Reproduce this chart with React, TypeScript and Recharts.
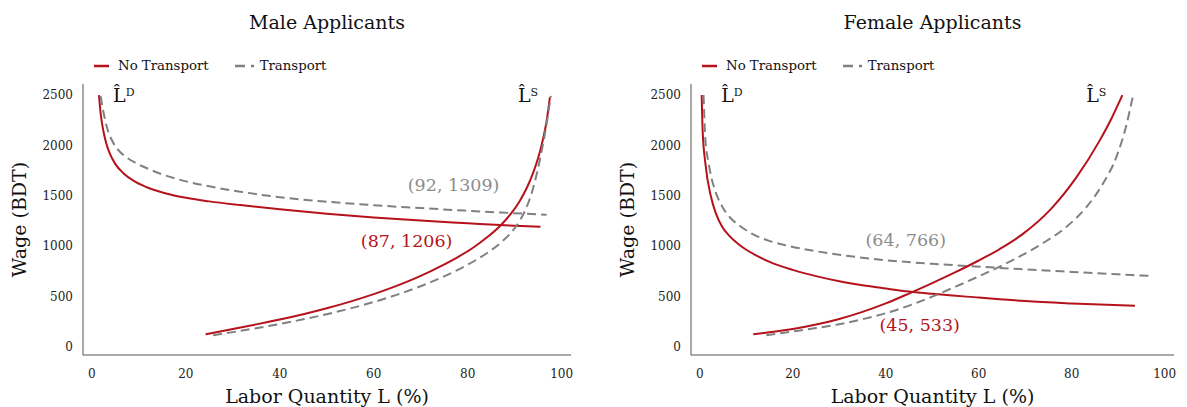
import React from "react";
import {
  LineChart,
  Line,
  XAxis,
  YAxis,
  Legend,
  ReferenceDot,
} from "recharts";

const FONT = '"DejaVu Serif", serif';
const RED = "#B5121B";
const GRAY = "#808080";
const GRAY_TEXT = "#8c8c8c";

const xTicks = [0, 20, 40, 60, 80, 100];
const yTicks = [0, 500, 1000, 1500, 2000, 2500];

// [labor %, wage] pairs
const maleDemandNoTransport = [
  [1.5, 2500], [1.9, 2300], [2.4, 2153], [3, 2030], [3.8, 1921], [5, 1815],
  [6.7, 1725], [9, 1645], [11.7, 1585], [15, 1533], [18.8, 1490],
  [25, 1445], [31.6, 1408], [40, 1366], [50, 1322], [60, 1286], [70, 1254],
  [80, 1228], [87, 1210], [95.5, 1192],
];
const maleSupplyNoTransport = [
  [24.2, 126], [30, 178], [35, 224], [40, 272], [45, 325], [50, 384],
  [55, 450], [60, 524], [65, 608], [70, 705], [74.2, 800], [78, 895],
  [81.3, 990], [84, 1083], [87, 1206], [89, 1310], [91, 1442], [92.5, 1570],
  [94, 1735], [95, 1875], [96, 2055], [96.8, 2239], [97.5, 2477],
];
const maleDemandTransport = [
  [1.85, 2490], [2.4, 2345], [3.1, 2195], [4.5, 2030], [5.8, 1945],
  [7.4, 1880], [9.5, 1822], [11.7, 1774], [15, 1712], [18.8, 1658],
  [25, 1594], [31.6, 1541], [40, 1486], [50, 1442], [60, 1407], [70, 1378],
  [80, 1352], [86, 1337], [92, 1323], [96.8, 1313],
];
const maleSupplyTransport = [
  [25.8, 116], [30, 147], [35, 186], [40, 228], [45, 274], [50, 325],
  [55, 382], [60, 446], [65, 519], [70, 603], [75, 701], [80, 816],
  [84, 928], [87, 1033], [89, 1123], [91, 1247], [92.5, 1382],
  [93.7, 1538], [94.8, 1736], [95.8, 1956], [96.6, 2156], [97.7, 2492],
];

const femaleDemandNoTransport = [
  [0.4, 2500], [0.6, 2150], [1.2, 1820], [2.4, 1490], [3.5, 1320],
  [4.8, 1192], [6.3, 1105], [8.6, 1010], [10, 965], [12, 912], [15, 845],
  [20, 765], [25, 703], [30, 652], [35, 612], [40, 580], [45, 550],
  [50, 527], [60, 490], [64.5, 474], [70, 455], [80, 432], [93.6, 410],
];
const femaleSupplyNoTransport = [
  [11.5, 126], [15, 146], [20, 177], [25, 222], [30, 278], [35, 348],
  [40, 432], [45.2, 535], [50, 634], [55, 742], [60, 858], [64.5, 972],
  [69.5, 1122], [75.3, 1358], [81, 1683], [86, 2048], [88.5, 2263],
  [90.9, 2500],
];
const femaleDemandTransport = [
  [0.8, 2500], [1.2, 2050], [1.8, 1850], [2.4, 1700], [3.5, 1525],
  [4.8, 1395], [6.5, 1285], [8.8, 1195], [11.5, 1117], [14.5, 1060],
  [20, 993], [25, 950], [30, 915], [40, 861], [50, 825], [57.4, 804],
  [64, 786], [70, 770], [80, 745], [90, 721], [96.8, 705],
];
const femaleSupplyTransport = [
  [14.3, 116], [20, 153], [25, 187], [30, 226], [35, 275], [40, 335],
  [45, 410], [50, 500], [55, 598], [60, 700], [64.5, 797], [68.8, 898],
  [73.8, 1030], [78.9, 1194], [83.2, 1390], [86.7, 1620], [89.6, 1885],
  [91.8, 2210], [93.2, 2500],
];

const maleLabels = {
  noTransport: { text: "(87, 1206)", x: 67, w: 1052 },
  transport: { text: "(92, 1309)", x: 77, w: 1607 },
  demandHat: 4.5,
  supplyHat: 90.7,
};
const femaleLabels = {
  noTransport: { text: "(45, 533)", x: 47.3, w: 218 },
  transport: { text: "(64, 766)", x: 44.3, w: 1061 },
  demandHat: 4.6,
  supplyHat: 83.1,
};

const toPts = (arr: number[][]) => arr.map(([x, w]) => ({ x, w }));

const hatLabel = (sup: string) => (props: any) => {
  const vb = props.viewBox || {};
  const x = vb.x + (vb.width || 0) / 2;
  const y = vb.y + (vb.height || 0) / 2;
  return (
    <text x={x} y={y} fontFamily={FONT} fontSize={19} fill="#111">
      {"L\u0302"}
      <tspan fontSize={11} dy={-6}>
        {sup}
      </tspan>
    </text>
  );
};

const yAxisLabel = (props: any) => {
  const vb = props.viewBox;
  const x = vb.x + vb.width - 57;
  const y = vb.y + vb.height / 2;
  return (
    <text
      x={x}
      y={y}
      transform={`rotate(-90 ${x} ${y})`}
      textAnchor="middle"
      fontFamily={FONT}
      fontSize={19}
      fill="#111"
    >
      Wage (BDT)
    </text>
  );
};

const xAxisLabel = (props: any) => {
  const vb = props.viewBox;
  return (
    <text
      x={vb.x + vb.width / 2}
      y={vb.y + 48}
      textAnchor="middle"
      fontFamily={FONT}
      fontSize={19}
      fill="#111"
    >
      Labor Quantity L (%)
    </text>
  );
};

const renderLegend = (props: any) => {
  const items = (props.payload || []).filter((p: any) => p.type !== "none");
  return (
    <div
      style={{
        display: "flex",
        alignItems: "center",
        fontFamily: FONT,
        fontSize: 13.3,
        lineHeight: "20px",
        color: "#111",
      }}
    >
      {items.map((p: any, i: number) => {
        const dashed = p.color === GRAY;
        const w = dashed ? 19 : 15;
        return (
          <div
            key={i}
            style={{ display: "flex", alignItems: "center", marginRight: i === 0 ? 26 : 0 }}
          >
            <svg width={w} height={4}>
              <line
                x1={0}
                y1={2}
                x2={w}
                y2={2}
                stroke={p.color}
                strokeWidth={2.5}
                strokeDasharray={dashed ? "10 6" : undefined}
              />
            </svg>
            <span style={{ marginLeft: dashed ? 6 : 9 }}>{p.value}</span>
          </div>
        );
      })}
    </div>
  );
};

interface PanelProps {
  title: string;
  left: number;
  width: number;
  axisWidth: number;
  rightMargin: number;
  legendLeft: number;
  demandNT: number[][];
  supplyNT: number[][];
  demandT: number[][];
  supplyT: number[][];
  labels: typeof maleLabels;
}

const Panel: React.FC<PanelProps> = (p) => {
  const plotCenter = (p.axisWidth + (p.width - p.rightMargin)) / 2;
  return (
    <div style={{ position: "absolute", left: p.left, top: 0, width: p.width, height: 407 }}>
      <div
        style={{
          position: "absolute",
          top: 10,
          left: plotCenter - 150,
          width: 300,
          textAlign: "center",
          fontFamily: FONT,
          fontSize: 19,
          lineHeight: "24px",
          color: "#111",
        }}
      >
        {p.title}
      </div>
      <LineChart
        width={p.width}
        height={407}
        margin={{ top: 84, right: p.rightMargin, bottom: 22, left: 0 }}
      >
        <XAxis
          type="number"
          dataKey="x"
          domain={[-1.9, 102]}
          ticks={xTicks}
          tickLine={false}
          axisLine={{ stroke: "#555" }}
          tickMargin={8}
          tick={{ fill: "#222", fontSize: 12, fontFamily: FONT }}
          height={30}
          label={xAxisLabel}
        />
        <YAxis
          type="number"
          domain={[-80, 2610]}
          ticks={yTicks}
          tickLine={false}
          axisLine={{ stroke: "#555" }}
          tickMargin={4}
          tick={{ fill: "#222", fontSize: 12, fontFamily: FONT }}
          width={p.axisWidth}
          label={yAxisLabel}
        />
        <Legend
          verticalAlign="middle"
          align="center"
          content={renderLegend}
          wrapperStyle={{ top: 56, left: p.legendLeft, width: "auto" }}
        />
        <Line
          data={toPts(p.demandNT)}
          dataKey="w"
          name="No Transport"
          type="monotone"
          stroke={RED}
          strokeWidth={2}
          dot={false}
          isAnimationActive={false}
        />
        <Line
          data={toPts(p.demandT)}
          dataKey="w"
          name="Transport"
          type="monotone"
          stroke={GRAY}
          strokeWidth={2}
          strokeDasharray="9 5"
          dot={false}
          isAnimationActive={false}
        />
        <Line
          data={toPts(p.supplyNT)}
          dataKey="w"
          name="No Transport supply"
          legendType="none"
          type="monotone"
          stroke={RED}
          strokeWidth={2}
          dot={false}
          isAnimationActive={false}
        />
        <Line
          data={toPts(p.supplyT)}
          dataKey="w"
          name="Transport supply"
          legendType="none"
          type="monotone"
          stroke={GRAY}
          strokeWidth={2}
          strokeDasharray="9 5"
          dot={false}
          isAnimationActive={false}
        />
        <ReferenceDot
          x={p.labels.transport.x}
          y={p.labels.transport.w}
          r={1}
          fill="none"
          stroke="none"
          label={{
            value: p.labels.transport.text,
            position: "center",
            fill: GRAY_TEXT,
            fontSize: 17.5,
            fontFamily: FONT,
          }}
        />
        <ReferenceDot
          x={p.labels.noTransport.x}
          y={p.labels.noTransport.w}
          r={1}
          fill="none"
          stroke="none"
          label={{
            value: p.labels.noTransport.text,
            position: "center",
            fill: RED,
            fontSize: 17.5,
            fontFamily: FONT,
          }}
        />
        <ReferenceDot
          x={p.labels.demandHat}
          y={2434}
          r={1}
          fill="none"
          stroke="none"
          label={hatLabel("D")}
        />
        <ReferenceDot
          x={p.labels.supplyHat}
          y={2434}
          r={1}
          fill="none"
          stroke="none"
          label={hatLabel("S")}
        />
      </LineChart>
    </div>
  );
};

export default function App() {
  return (
    <div
      style={{
        position: "absolute",
        left: 0,
        top: 0,
        width: 1187,
        height: 407,
        background: "#fff",
      }}
    >
      <Panel
        title="Male Applicants"
        left={0}
        width={600}
        axisWidth={83}
        rightMargin={29}
        legendLeft={94}
        demandNT={maleDemandNoTransport}
        supplyNT={maleSupplyNoTransport}
        demandT={maleDemandTransport}
        supplyT={maleSupplyTransport}
        labels={maleLabels}
      />
      <Panel
        title="Female Applicants"
        left={600}
        width={587}
        axisWidth={91}
        rightMargin={13}
        legendLeft={102}
        demandNT={femaleDemandNoTransport}
        supplyNT={femaleSupplyNoTransport}
        demandT={femaleDemandTransport}
        supplyT={femaleSupplyTransport}
        labels={femaleLabels}
      />
    </div>
  );
}
